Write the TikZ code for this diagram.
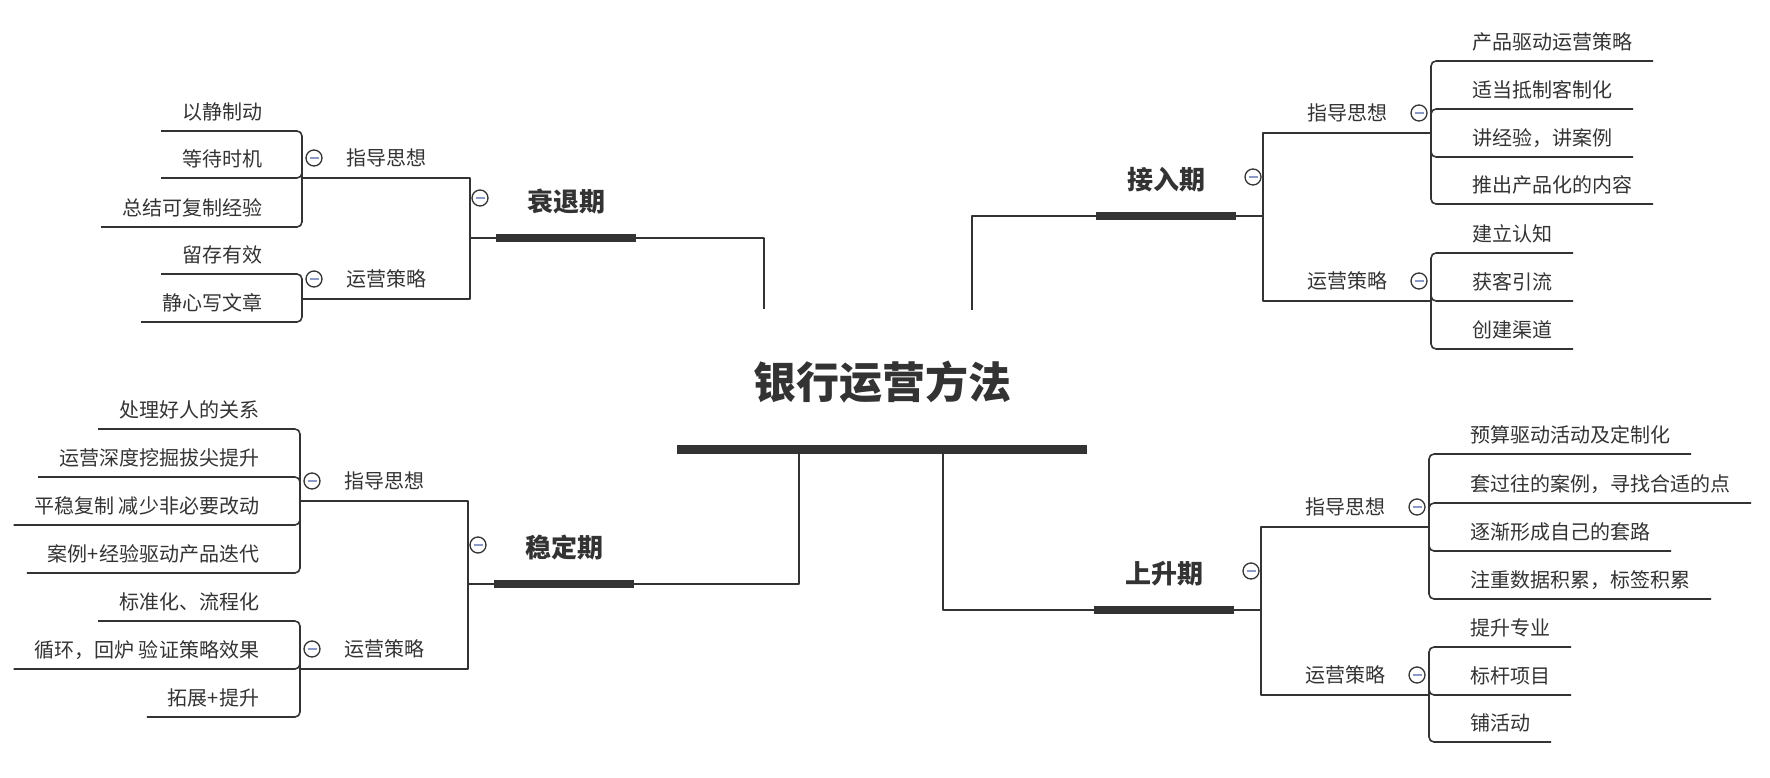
\documentclass[tikz,border=0pt]{standalone}
\usepackage{fontspec}
\setmainfont{Noto Sans CJK SC}
\definecolor{mo}{HTML}{333333}
\definecolor{jian}{HTML}{8C9AC8}
\begin{document}
\begin{tikzpicture}[x=1pt,y=-1pt,line join=round,
	xian/.style={draw=mo,line width=1.6pt},
	cu/.style={draw=mo,line width=8pt,line cap=butt},
	lian/.style={xian,rounded corners=5pt},
	zi/.style={text=mo,font=\fontsize{20}{24}\selectfont,text height=16.6pt,text depth=1.4pt,inner xsep=21pt,inner ysep=10.5pt,outer sep=0pt},
	er/.style={text=mo,font=\fontsize{20}{24}\selectfont,text height=16.6pt,text depth=1.4pt,inner xsep=0pt,inner ysep=11pt,minimum width=168pt,outer sep=0pt},
	yi/.style={text=mo,font=\bfseries\fontsize{26}{30}\selectfont,text height=21.6pt,text depth=1.8pt,inner xsep=0pt,inner ysep=24.3pt,minimum width=140pt,outer sep=0pt},
	zhuti/.style={text=mo,font=\bfseries\fontsize{43}{50}\selectfont,text height=35.7pt,text depth=3pt,inner xsep=0pt,inner ysep=47.7pt,minimum width=410pt,outer sep=0pt},
	shou/.style={circle,draw=mo,line width=1.3pt,fill=white,minimum size=16pt,inner sep=0pt,
		path picture={\draw[jian,line width=2pt] ([xshift=-4.5pt]path picture bounding box.center)--([xshift=4.5pt]path picture bounding box.center);}}]
	\useasboundingbox (0,0) rectangle (1770,778);
	%中心
	\node[zhuti,anchor=south] (fa) at (882,449) {银行运营方法};
	\draw[cu,line width=9pt] (fa.south west)--(fa.south east);
	%衰退期
	\node[yi,anchor=south] (sh) at (566,238) {衰退期};
	\draw[cu] (sh.south west)--(sh.south east);
	\coordinate (sh-d) at (764,309);
	\draw[xian] (sh.south east) -| (sh-d);
	\node[er,anchor=south east] (sh-1) at (470,178) {指导思想};
	\node[er,anchor=south east] (sh-2) at (470,299) {运营策略};
	\draw[xian] (sh-1.south west)--(sh-1.south east) |- (sh.south west);
	\draw[xian] (sh-2.south west)--(sh-2.south east) |- (sh.south west);
	\foreach \y/\t [count=\i] in {131/以静制动,178/等待时机,227/总结可复制经验}{
		\node[zi,anchor=south east] (sh-1-\i) at (283,\y) {\t};
		\draw[lian] (sh-1.south west) |- (sh-1-\i.south east) -- (sh-1-\i.south west);
	}
	\foreach \y/\t [count=\i] in {274/留存有效,322/静心写文章}{
		\node[zi,anchor=south east] (sh-2-\i) at (283,\y) {\t};
		\draw[lian] (sh-2.south west) |- (sh-2-\i.south east) -- (sh-2-\i.south west);
	}
	\node[shou] (sh-o) at (480,198) {};
	\node[shou] (sh-1o) at ([xshift=12pt,yshift=20pt]sh-1.south west) {};
	\node[shou] (sh-2o) at ([xshift=12pt,yshift=20pt]sh-2.south west) {};
	%稳定期
	\node[yi,anchor=south] (wd) at (564,584) {稳定期};
	\draw[cu] (wd.south west)--(wd.south east);
	\draw[xian] ([xshift=-83pt]fa.south) |- (wd.south east);
	\node[er,anchor=south east] (wd-1) at (468,501) {指导思想};
	\node[er,anchor=south east] (wd-2) at (468,669) {运营策略};
	\draw[xian] (wd-1.south west)--(wd-1.south east) |- (wd.south west);
	\draw[xian] (wd-2.south west)--(wd-2.south east) |- (wd.south west);
	\foreach \y/\t [count=\i] in {429/处理好人的关系,477/运营深度挖掘拔尖提升,525/平稳复制 减少非必要改动,573/案例+经验驱动产品迭代}{
		\node[zi,anchor=south east] (wd-1-\i) at (280,\y) {\t};
		\draw[lian] (wd-1.south west) |- (wd-1-\i.south east) -- (wd-1-\i.south west);
	}
	\foreach \y/\t [count=\i] in {621/标准化、流程化,669/循环，回炉 验证策略效果,717/拓展+提升}{
		\node[zi,anchor=south east] (wd-2-\i) at (280,\y) {\t};
		\draw[lian] (wd-2.south west) |- (wd-2-\i.south east) -- (wd-2-\i.south west);
	}
	\node[shou] (wd-o) at (478,545) {};
	\node[shou] (wd-1o) at ([xshift=12pt,yshift=20pt]wd-1.south west) {};
	\node[shou] (wd-2o) at ([xshift=12pt,yshift=20pt]wd-2.south west) {};
	%接入期
	\node[yi,anchor=south] (jr) at (1166,216) {接入期};
	\draw[cu] (jr.south west)--(jr.south east);
	\coordinate (jr-d) at (972,310);
	\draw[xian] (jr.south west) -| (jr-d);
	\node[er,anchor=south west] (jr-1) at (1263,133) {指导思想};
	\node[er,anchor=south west] (jr-2) at (1263,301) {运营策略};
	\draw[xian] (jr-1.south east)--(jr-1.south west) |- (jr.south east);
	\draw[xian] (jr-2.south east)--(jr-2.south west) |- (jr.south east);
	\foreach \y/\t [count=\i] in {61/产品驱动运营策略,109/适当抵制客制化,157/讲经验，讲案例,204/推出产品化的内容}{
		\node[zi,anchor=south west] (jr-1-\i) at (1451,\y) {\t};
		\draw[lian] (jr-1.south east) |- (jr-1-\i.south west) -- (jr-1-\i.south east);
	}
	\foreach \y/\t [count=\i] in {253/建立认知,301/获客引流,349/创建渠道}{
		\node[zi,anchor=south west] (jr-2-\i) at (1451,\y) {\t};
		\draw[lian] (jr-2.south east) |- (jr-2-\i.south west) -- (jr-2-\i.south east);
	}
	\node[shou] (jr-o) at (1253,177) {};
	\node[shou] (jr-1o) at ([xshift=-12pt,yshift=20pt]jr-1.south east) {};
	\node[shou] (jr-2o) at ([xshift=-12pt,yshift=20pt]jr-2.south east) {};
	%上升期
	\node[yi,anchor=south] (ss) at (1164,610) {上升期};
	\draw[cu] (ss.south west)--(ss.south east);
	\draw[xian] ([xshift=61pt]fa.south) |- (ss.south west);
	\node[er,anchor=south west] (ss-1) at (1261,527) {指导思想};
	\node[er,anchor=south west] (ss-2) at (1261,695) {运营策略};
	\draw[xian] (ss-1.south east)--(ss-1.south west) |- (ss.south east);
	\draw[xian] (ss-2.south east)--(ss-2.south west) |- (ss.south east);
	\foreach \y/\t [count=\i] in {454/预算驱动活动及定制化,503/套过往的案例，寻找合适的点,551/逐渐形成自己的套路,599/注重数据积累，标签积累}{
		\node[zi,anchor=south west] (ss-1-\i) at (1449,\y) {\t};
		\draw[lian] (ss-1.south east) |- (ss-1-\i.south west) -- (ss-1-\i.south east);
	}
	\foreach \y/\t [count=\i] in {647/提升专业,695/标杆项目,742/铺活动}{
		\node[zi,anchor=south west] (ss-2-\i) at (1449,\y) {\t};
		\draw[lian] (ss-2.south east) |- (ss-2-\i.south west) -- (ss-2-\i.south east);
	}
	\node[shou] (ss-o) at (1251,571) {};
	\node[shou] (ss-1o) at ([xshift=-12pt,yshift=20pt]ss-1.south east) {};
	\node[shou] (ss-2o) at ([xshift=-12pt,yshift=20pt]ss-2.south east) {};
\end{tikzpicture}
\end{document}
